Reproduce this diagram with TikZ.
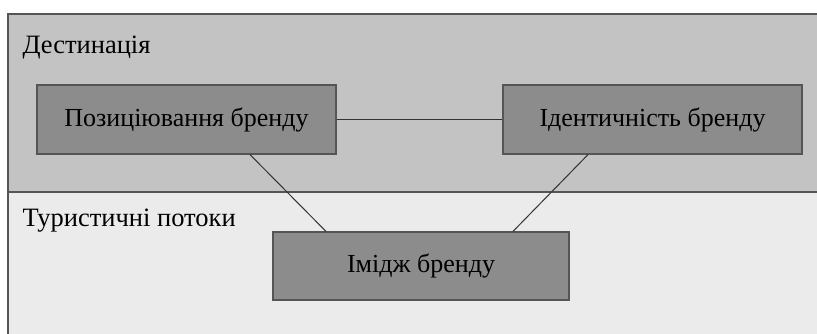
\documentclass[tikz,border=0pt]{standalone}
\usepackage{fontspec}
\setmainfont{Liberation Serif}
\definecolor{zonaTop}{HTML}{C3C3C3}
\definecolor{zonaBot}{HTML}{EBEBEB}
\definecolor{boxFill}{HTML}{8C8C8C}
\definecolor{lineGray}{HTML}{555555}
\tikzset{
  brand/.style={draw=lineGray, line width=1.2pt, fill=boxFill, minimum height=69pt,
    inner sep=0pt, font=\fontsize{26}{30}\selectfont},
  zona/.style={draw=lineGray, line width=1.2pt},
  legame/.style={draw=black!80, line width=1pt}
}
\begin{document}
\begin{tikzpicture}[x=1pt,y=-1pt]
        \useasboundingbox (0,0) rectangle (817,333);

        % Zone di sfondo
        \fill[zonaBot] (8,192) rectangle (819,335);
        \draw[zona] (8,335) -- (8,192) -- (819,192);
        \fill[zonaTop] (8,14) rectangle (819,192);
        \draw[zona] (819,14) -- (8,14) -- (8,192) -- (819,192);

        % Etichette delle zone
        \node[anchor=west, font=\fontsize{26.5}{30}\selectfont] (dest) at (19,48) {Дестинація};
        \node[anchor=west, font=\fontsize{26.5}{30}\selectfont] (flussi) at (19,221) {Туристичні потоки};

        % Riquadri del marchio
        \node[brand, minimum width=299pt] (pos) at (186.5,119.5) {Позиціювання бренду};
        \node[brand, minimum width=299pt] (ident) at (652.5,119.5) {Ідентичність бренду};
        \node[brand, minimum width=296pt, minimum height=68pt] (imidzh) at (421,266) {Імідж бренду};

        % Collegamenti
        \draw[legame] (pos) -- (ident);
        \draw[legame] ([xshift=63.5pt]pos.south) -- ([xshift=-95pt]imidzh.north);
        \draw[legame] ([xshift=-64.5pt]ident.south) -- ([xshift=92pt]imidzh.north);
\end{tikzpicture}
\end{document}
